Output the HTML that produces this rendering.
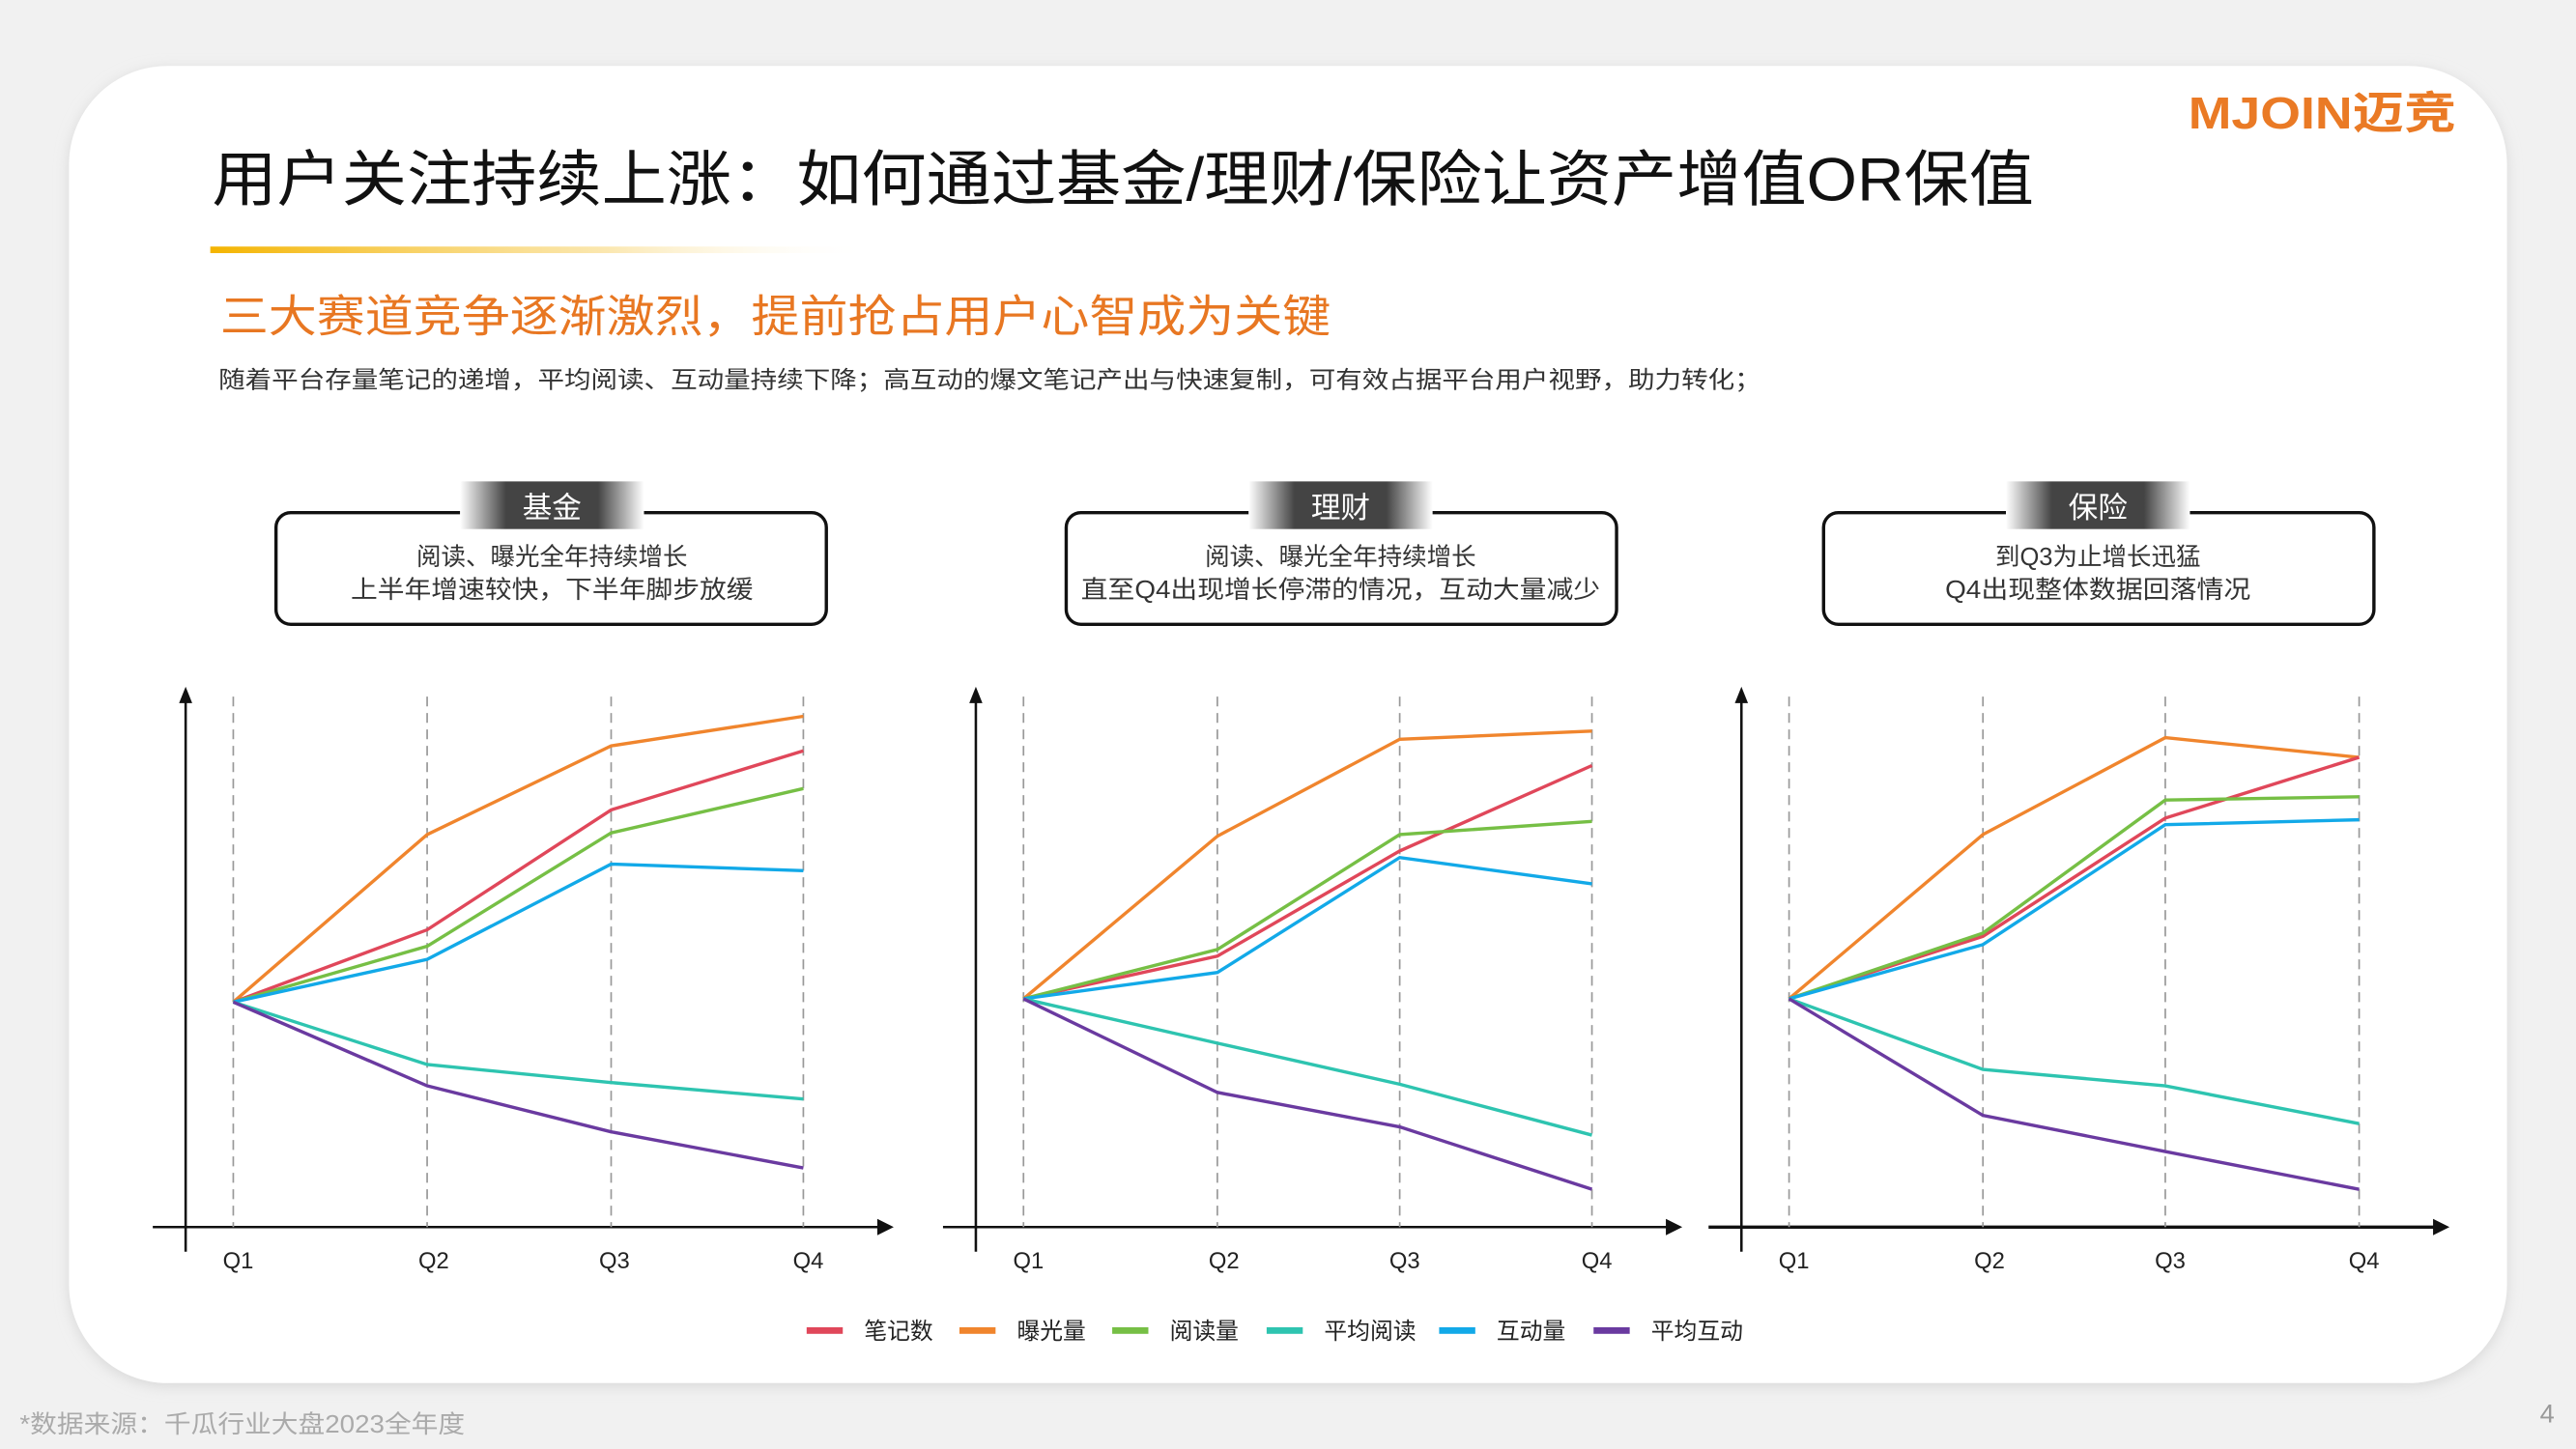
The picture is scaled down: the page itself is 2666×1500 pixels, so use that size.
<!DOCTYPE html>
<html><head><meta charset="utf-8"><style>
html,body{margin:0;padding:0;background:#f1f1f1;}
svg{display:block;}
text{font-family:"Liberation Sans","Noto Sans CJK SC",sans-serif;}
</style></head><body>
<svg width="2666" height="1500" viewBox="0 0 1568 882" xmlns="http://www.w3.org/2000/svg">
<defs>
<linearGradient id="ul" x1="0" x2="1"><stop offset="0" stop-color="#f4b400"/><stop offset="0.6" stop-color="#f8d77a" stop-opacity="0.6"/><stop offset="1" stop-color="#fff" stop-opacity="0"/></linearGradient>
<linearGradient id="tab" x1="0" x2="1"><stop offset="0" stop-color="#fff"/><stop offset="0.25" stop-color="#444"/><stop offset="0.75" stop-color="#444"/><stop offset="1" stop-color="#fff"/></linearGradient>
<filter id="sh" x="-5%" y="-5%" width="110%" height="110%"><feGaussianBlur stdDeviation="4"/></filter>
</defs>
<rect width="1568" height="882" fill="#f1f1f1"/>
<rect x="42" y="42" width="1484" height="802" rx="60" fill="#d8d8d8" filter="url(#sh)"/>
<rect x="42" y="40" width="1484" height="802" rx="60" fill="#fff"/>
<text x="1332" y="78" font-size="27" font-weight="bold" fill="#ea7a25" textLength="163" lengthAdjust="spacingAndGlyphs">MJOIN迈竞</text>
<text x="129" y="122" font-size="37" fill="#111" textLength="1109" lengthAdjust="spacingAndGlyphs">用户关注持续上涨：如何通过基金/理财/保险让资产增值OR保值</text>
<rect x="128" y="150" width="402" height="4" fill="url(#ul)"/>
<text x="134" y="202" font-size="27" fill="#e87722" textLength="676" lengthAdjust="spacingAndGlyphs">三大赛道竞争逐渐激烈，提前抢占用户心智成为关键</text>
<text x="133" y="236" font-size="14.5" fill="#333" textLength="939" lengthAdjust="spacingAndGlyphs">随着平台存量笔记的递增，平均阅读、互动量持续下降；高互动的爆文笔记产出与快速复制，可有效占据平台用户视野，助力转化；</text>

<g stroke="#111" stroke-width="2" fill="#fff">
<rect x="168" y="312" width="335" height="68" rx="9"/>
<rect x="649" y="312" width="335" height="68" rx="9"/>
<rect x="1110" y="312" width="335" height="68" rx="9"/>
</g>
<g>
<rect x="280" y="293" width="112" height="29" fill="url(#tab)"/>
<rect x="760" y="293" width="112" height="29" fill="url(#tab)"/>
<rect x="1221" y="293" width="112" height="29" fill="url(#tab)"/>
</g>
<g font-size="18" fill="#fff" text-anchor="middle">
<text x="336" y="315">基金</text><text x="816" y="315">理财</text><text x="1277" y="315">保险</text>
</g>
<g font-size="15" fill="#333" text-anchor="middle">
<text x="336" y="344">阅读、曝光全年持续增长</text>
<text x="336" y="364" textLength="245" lengthAdjust="spacingAndGlyphs">上半年增速较快，下半年脚步放缓</text>
<text x="816" y="344">阅读、曝光全年持续增长</text>
<text x="816" y="364" textLength="316" lengthAdjust="spacingAndGlyphs">直至Q4出现增长停滞的情况，互动大量减少</text>
<text x="1277" y="344">到Q3为止增长迅猛</text>
<text x="1277" y="364" textLength="186" lengthAdjust="spacingAndGlyphs">Q4出现整体数据回落情况</text>
</g>

<g stroke="#111" stroke-width="1.5" fill="none">
<line x1="113" y1="425" x2="113" y2="762"/><line x1="93" y1="747" x2="537" y2="747"/>
<line x1="594" y1="425" x2="594" y2="762"/><line x1="574" y1="747" x2="1017" y2="747"/>
<line x1="1060" y1="425" x2="1060" y2="762"/><line x1="1040" y1="747" x2="1484" y2="747" stroke-width="2"/>
</g>
<g fill="#111">
<polygon points="113,418 109,428 117,428"/><polygon points="594,418 590,428 598,428"/><polygon points="1060,418 1056,428 1064,428"/>
<polygon points="544,747 534,742 534,752"/><polygon points="1024,747 1014,742 1014,752"/><polygon points="1491,747 1481,742 1481,752"/>
</g>
<g stroke="#999" stroke-width="1" stroke-dasharray="6,4">
<line x1="142" y1="424" x2="142" y2="747"/><line x1="260" y1="424" x2="260" y2="747"/><line x1="372" y1="424" x2="372" y2="747"/><line x1="489" y1="424" x2="489" y2="747"/>
<line x1="623" y1="424" x2="623" y2="747"/><line x1="741" y1="424" x2="741" y2="747"/><line x1="852" y1="424" x2="852" y2="747"/><line x1="969" y1="424" x2="969" y2="747"/>
<line x1="1089" y1="424" x2="1089" y2="747"/><line x1="1207" y1="424" x2="1207" y2="747"/><line x1="1318" y1="424" x2="1318" y2="747"/><line x1="1436" y1="424" x2="1436" y2="747"/>
</g>
<g font-size="14" fill="#222" text-anchor="middle">
<text x="145" y="772">Q1</text><text x="264" y="772">Q2</text><text x="374" y="772">Q3</text><text x="492" y="772">Q4</text>
<text x="626" y="772">Q1</text><text x="745" y="772">Q2</text><text x="855" y="772">Q3</text><text x="972" y="772">Q4</text>
<text x="1092" y="772">Q1</text><text x="1211" y="772">Q2</text><text x="1321" y="772">Q3</text><text x="1439" y="772">Q4</text>
</g>
<g fill="none" stroke-width="2">
<polyline stroke="#f0852d" points="142,610 260,508 372,454 489,436"/>
<polyline stroke="#e0475a" points="142,610 260,566 372,493 489,457"/>
<polyline stroke="#76bf45" points="142,610 260,576 372,507 489,480"/>
<polyline stroke="#12a9e8" points="142,610 260,584 372,526 489,530"/>
<polyline stroke="#2ec4b0" points="142,610 260,648 372,659 489,669"/>
<polyline stroke="#6a3aa0" points="142,610 260,661 372,689 489,711"/>

<polyline stroke="#f0852d" points="623,608 741,509 852,450 969,445"/>
<polyline stroke="#e0475a" points="623,608 741,582 852,518 969,466"/>
<polyline stroke="#76bf45" points="623,608 741,578 852,508 969,500"/>
<polyline stroke="#12a9e8" points="623,608 741,592 852,522 969,538"/>
<polyline stroke="#2ec4b0" points="623,608 741,635 852,660 969,691"/>
<polyline stroke="#6a3aa0" points="623,608 741,665 852,686 969,724"/>

<polyline stroke="#f0852d" points="1089,608 1207,508 1318,449 1436,461"/>
<polyline stroke="#e0475a" points="1089,608 1207,570 1318,498 1436,461"/>
<polyline stroke="#76bf45" points="1089,608 1207,568 1318,487 1436,485"/>
<polyline stroke="#12a9e8" points="1089,608 1207,575 1318,502 1436,499"/>
<polyline stroke="#2ec4b0" points="1089,608 1207,651 1318,661 1436,684"/>
<polyline stroke="#6a3aa0" points="1089,608 1207,679 1318,701 1436,724"/>
</g>
<g>
<rect x="491" y="808" width="22" height="4" fill="#e0475a"/>
<rect x="584" y="808" width="22" height="4" fill="#f0852d"/>
<rect x="677" y="808" width="22" height="4" fill="#76bf45"/>
<rect x="771" y="808" width="22" height="4" fill="#2ec4b0"/>
<rect x="876" y="808" width="22" height="4" fill="#12a9e8"/>
<rect x="970" y="808" width="22" height="4" fill="#6a3aa0"/>
</g>
<g font-size="14" fill="#222">
<text x="526" y="815">笔记数</text><text x="619" y="815">曝光量</text><text x="712" y="815">阅读量</text>
<text x="806" y="815">平均阅读</text><text x="911" y="815">互动量</text><text x="1005" y="815">平均互动</text>
</g>
<text x="12" y="872" font-size="15" fill="#aaa" textLength="271" lengthAdjust="spacingAndGlyphs">*数据来源：千瓜行业大盘2023全年度</text>
<text x="1546" y="866" font-size="16" fill="#999">4</text>
</svg>
</body></html>
